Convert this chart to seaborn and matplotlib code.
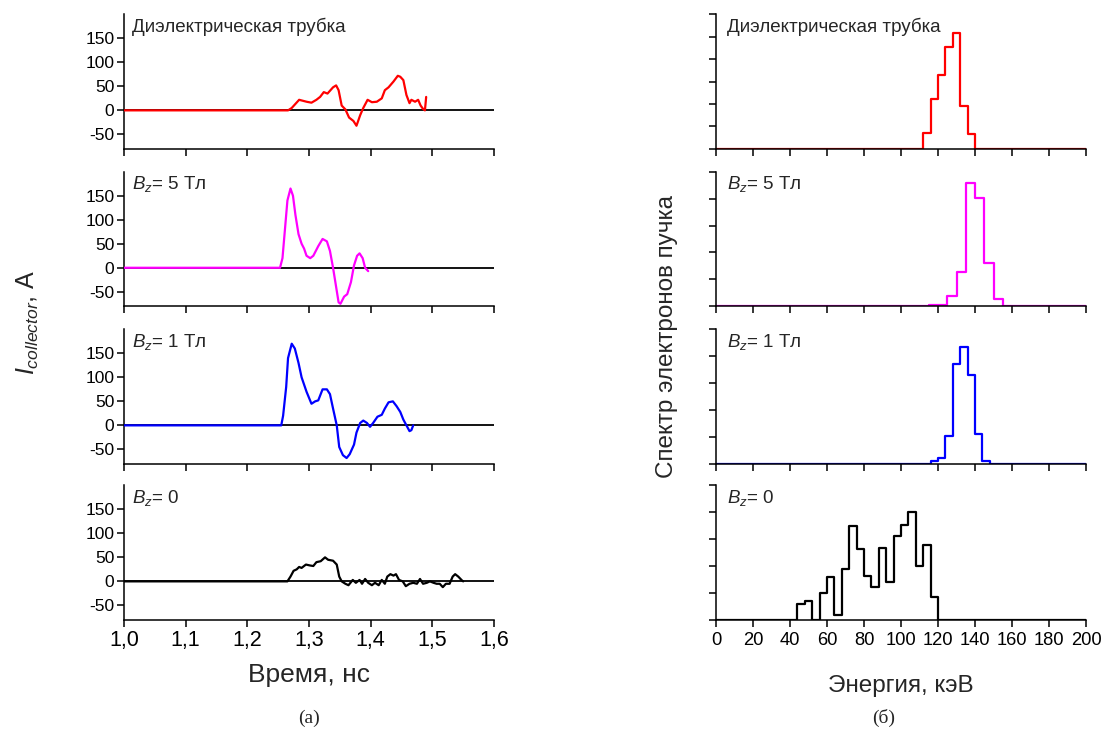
import numpy as np
import pandas as pd
import matplotlib
matplotlib.use("Agg")
import matplotlib.pyplot as plt
import seaborn as sns

# ---------------- data: collector current, A (left) ----------------
t_red = [1.000, 1.266, 1.272, 1.284, 1.296, 1.304, 1.312, 1.318, 1.324, 1.330, 1.339, 1.344, 1.348,
         1.353, 1.359, 1.365, 1.372, 1.377, 1.383, 1.388, 1.395, 1.402, 1.410, 1.418, 1.423, 1.429,
         1.437, 1.444, 1.448, 1.453, 1.458, 1.463, 1.466, 1.472, 1.477, 1.481, 1.485, 1.488, 1.490]
i_red = [0, 0, 5, 22, 18, 16, 22, 28, 38, 35, 48, 52, 42, 10, 2, -15, -22, -32, -10, 5, 22, 17, 18,
         25, 42, 48, 60, 72, 70, 63, 32, 15, 22, 18, 22, 10, 3, 0, 28]

t_mag = [1.000, 1.253, 1.257, 1.261, 1.265, 1.270, 1.274, 1.278, 1.283, 1.288, 1.292, 1.296, 1.302,
         1.307, 1.315, 1.322, 1.329, 1.334, 1.339, 1.344, 1.348, 1.351, 1.357, 1.362, 1.368, 1.373,
         1.378, 1.382, 1.387, 1.391, 1.396]
i_mag = [0, 0, 20, 80, 140, 165, 150, 110, 70, 50, 40, 25, 20, 25, 45, 60, 55, 35, 0, -40, -72, -75,
         -60, -55, -30, 5, 25, 30, 20, 0, -7]

t_blue = [1.000, 1.255, 1.258, 1.263, 1.266, 1.272, 1.277, 1.283, 1.288, 1.296, 1.304, 1.310, 1.315,
          1.322, 1.329, 1.334, 1.339, 1.345, 1.349, 1.355, 1.361, 1.366, 1.373, 1.377, 1.383, 1.388,
          1.394, 1.399, 1.404, 1.411, 1.418, 1.423, 1.429, 1.436, 1.442, 1.448, 1.453, 1.458, 1.463,
          1.466, 1.469]
i_blue = [0, 0, 20, 80, 140, 170, 160, 130, 100, 70, 45, 50, 52, 75, 75, 65, 35, 0, -45, -62, -68,
          -60, -40, -15, 5, 10, 5, -3, 5, 18, 22, 35, 48, 50, 40, 28, 12, 0, -12, -10, 0]

t_black = [1.000, 1.265, 1.270, 1.275, 1.280, 1.284, 1.288, 1.295, 1.302, 1.307, 1.312, 1.319, 1.326,
           1.331, 1.339, 1.345, 1.349, 1.353, 1.359, 1.364, 1.371, 1.376, 1.382, 1.386, 1.391, 1.396,
           1.402, 1.407, 1.413, 1.418, 1.423, 1.427, 1.432, 1.437, 1.441, 1.446, 1.452, 1.457, 1.463,
           1.469, 1.475, 1.480, 1.485, 1.491, 1.496, 1.502, 1.507, 1.512, 1.517, 1.522, 1.528, 1.533,
           1.537, 1.542, 1.548, 1.550]
i_black = [0, 0, 10, 22, 25, 30, 28, 35, 33, 32, 40, 42, 50, 45, 43, 35, 10, 0, -5, -8, 3, -3, 3, -5,
           5, -3, -8, -3, -8, 3, -5, 10, 15, 12, 15, 3, 0, -10, -5, -3, -5, 5, -5, -3, 0, -3, -5, -5,
           -12, -5, -5, 10, 15, 10, 2, 0]

# ---------------- data: electron energy spectra (right) ----------------
e_red = [112, 116, 120, 124, 128, 132, 136]            # bin left edges, keV (width 4)
s_red = [0.70, 2.23, 3.27, 4.52, 5.17, 1.89, 0.68]
e_mag = [115, 120, 125, 130, 135, 140, 145, 150]       # width 5
s_mag = [0.03, 0.05, 0.37, 1.27, 4.58, 4.03, 1.60, 0.25]
e_blue = [116, 120, 124, 128, 132, 136, 140, 144]      # width 4
s_blue = [0.12, 0.22, 1.02, 3.72, 4.35, 3.30, 1.09, 0.10]
e_black = [44, 48, 52, 56, 60, 64, 68, 72, 76, 80, 84, 88, 92, 96, 100, 104, 108, 112, 116]
s_black = [0.58, 0.70, 0.0, 1.01, 1.58, 0.19, 1.90, 3.48, 2.64, 1.62, 1.22, 2.67, 1.42, 3.10,
           3.53, 4.02, 2.00, 2.77, 0.85]

panel_titles = ["Диэлектрическая трубка", r"$B_z$= 5 Тл", r"$B_z$= 1 Тл", r"$B_z$= 0"]
left_xticks = [1.0, 1.1, 1.2, 1.3, 1.4, 1.5, 1.6]
left_xticklabels = ["1,0", "1,1", "1,2", "1,3", "1,4", "1,5", "1,6"]
left_yticks = [-50, 0, 50, 100, 150]
right_xticks = [0, 20, 40, 60, 80, 100, 120, 140, 160, 180, 200]

# ---------------- style ----------------
sns.set_style("ticks")
plt.rcParams["font.family"] = ["Liberation Sans", "DejaVu Sans"]
plt.rcParams["mathtext.fontset"] = "custom"
plt.rcParams["mathtext.rm"] = "Liberation Sans"
plt.rcParams["mathtext.it"] = "Liberation Sans:italic"
plt.rcParams["axes.linewidth"] = 1.1
plt.rcParams["xtick.major.width"] = 1.1
plt.rcParams["ytick.major.width"] = 1.1
plt.rcParams["xtick.major.size"] = 5
plt.rcParams["ytick.major.size"] = 5
plt.rcParams["xtick.color"] = "black"
plt.rcParams["ytick.color"] = "black"
plt.rcParams["axes.edgecolor"] = "black"

W, H = 1101, 733
fig = plt.figure(figsize=(W / 100, H / 100), dpi=100)

tops = [14.3, 171.7, 329.3, 485.3]
ph = 134.5
lx0, rx0, pw = 124, 716, 370

def add_ax(x0, top):
    return fig.add_axes([x0 / W, 1 - (top + ph) / H, pw / W, ph / H])

left_series = [(t_red, i_red, "#ff0000"), (t_mag, i_mag, "#ff00ff"),
               (t_blue, i_blue, "#0000ff"), (t_black, i_black, "#000000")]
right_series = [(e_red, s_red, 4, "#ff0000", 6), (e_mag, s_mag, 5, "#ff00ff", 5),
                (e_blue, s_blue, 4, "#0000ff", 5), (e_black, s_black, 4, "#000000", 5)]

for k in range(4):
    # ---- left: current vs time
    ax = add_ax(lx0, tops[k])
    ax.axhline(0, color="black", lw=1.3, zorder=1)
    t, cur, col = left_series[k]
    sns.lineplot(x=t, y=cur, ax=ax, color=col, lw=1.6, estimator=None, sort=False, zorder=3)
    ax.set_xlim(1.0, 1.6)
    ax.set_ylim(-80, 200)
    ax.set_yticks(left_yticks)
    ax.set_yticklabels([str(v) for v in left_yticks], fontsize=12.5)
    ax.set_xticks(left_xticks)
    if k == 3:
        ax.set_xticklabels(left_xticklabels, fontsize=15.5)
    else:
        ax.set_xticklabels([])
    ax.tick_params(axis="both", pad=2)
    sns.despine(ax=ax)
    ax.set_xlabel("")
    ax.set_ylabel("")
    ax.text(0.022, 0.905, panel_titles[k], transform=ax.transAxes, fontsize=13.5,
            ha="left", va="center")

    # ---- right: energy spectrum
    axr = add_ax(rx0, tops[k])
    lefts, heights, w, col, ytop = right_series[k]
    df = pd.DataFrame({"energy": [e + w / 2 for e in lefts], "count": heights})
    sns.histplot(data=df, x="energy", weights="count", binwidth=w, binrange=(0, 200),
                 element="step", fill=False, color=col, linewidth=1.6, ax=axr)
    axr.set_xlim(0, 200)
    axr.set_ylim(0, ytop)
    axr.set_yticks(range(0, ytop + 1))
    axr.set_yticklabels([])
    axr.set_xticks(right_xticks)
    if k == 3:
        axr.set_xticklabels([str(v) for v in right_xticks], fontsize=13.2)
    else:
        axr.set_xticklabels([])
    axr.tick_params(axis="x", pad=4)
    sns.despine(ax=axr)
    axr.set_xlabel("")
    axr.set_ylabel("")
    axr.text(0.03, 0.905, panel_titles[k], transform=axr.transAxes, fontsize=13.5,
             ha="left", va="center")

# ---------------- labels ----------------
fig.text(28 / W, 1 - 322 / H, r"$I_{collector}$, А", rotation=90, fontsize=18,
         ha="center", va="center")
fig.text(309 / W, 1 - 675 / H, "Время, нс", fontsize=19, ha="center", va="center")
fig.text(667 / W, 1 - 337 / H, "Спектр электронов пучка", rotation=90, fontsize=17.5,
         ha="center", va="center")
fig.text(901 / W, 1 - 686 / H, "Энергия, кэВ", fontsize=17.5, ha="center", va="center")
fig.text(309 / W, 1 - 718 / H, "(а)", fontsize=14, ha="center", va="center",
         family=["Liberation Serif", "DejaVu Serif"])
fig.text(884 / W, 1 - 718 / H, "(б)", fontsize=14, ha="center", va="center",
         family=["Liberation Serif", "DejaVu Serif"])

fig.savefig("out.png", dpi=100, facecolor="white")
